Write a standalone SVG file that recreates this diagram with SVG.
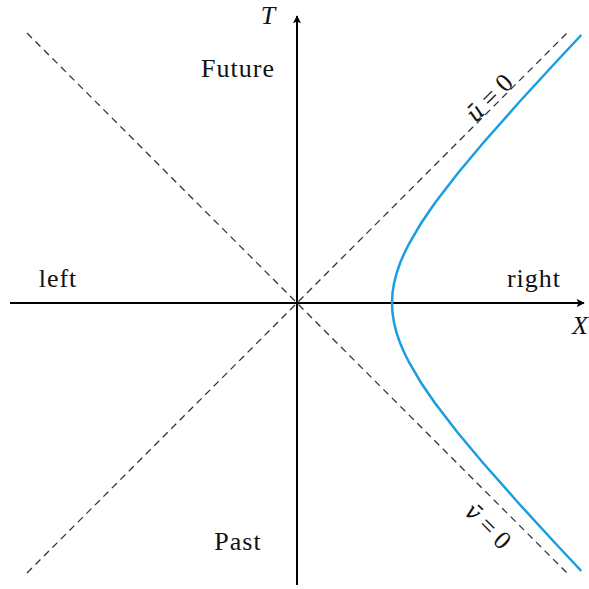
<svg xmlns="http://www.w3.org/2000/svg" width="589" height="589" viewBox="0 0 589 589">
<style>
.axis{stroke:#000;stroke-width:2;fill:none}
.dash{stroke:#333;stroke-width:1.3;stroke-dasharray:7 5;fill:none}
.hyp{stroke:#1a9ee0;stroke-width:2.5;fill:none}
.lbl{font-family:"Liberation Serif","DejaVu Serif",serif;font-size:26px;fill:#111}
.it{font-style:italic}
.dv{font-family:"DejaVu Serif",serif;font-size:23px}
</style>
<defs>
<marker id="arr" viewBox="0 0 10 10" refX="9" refY="5" markerWidth="8" markerHeight="8" markerUnits="userSpaceOnUse" orient="auto">
<path d="M0,0 L10,5 L0,10 L2,5 Z" fill="#000"/>
</marker>
</defs>
<rect width="589" height="589" fill="#fff"/>
<g id="connectors">
<line class="dash" x1="27" y1="33" x2="567" y2="573"/>
<line class="dash" x1="27" y1="573" x2="567" y2="33"/>
<line class="axis" x1="10" y1="303" x2="584" y2="303" marker-end="url(#arr)"/>
<line class="axis" x1="297" y1="585" x2="297" y2="16" marker-end="url(#arr)"/>
<polyline class="hyp" points="581.3,35 555.1,63 518.4,103 483.1,143 458,173 434.9,203 421.2,223 409.4,243 404.4,253 400.1,263 396.6,273 394.1,283 392.5,293 392,303 392.5,313 394.1,323 396.6,333 400.1,343 404.4,353 409.4,363 421.2,383 434.9,403 458,433 483.1,463 518.4,503 555.1,543 581.3,571"/>
</g>
<g id="labels">
<text class="lbl it" x="268" y="24" text-anchor="middle">T</text>
<text class="lbl it" x="580" y="334" text-anchor="middle">X</text>
<text class="lbl" x="238" y="77" text-anchor="middle" letter-spacing="1">Future</text>
<text class="lbl" x="238" y="550" text-anchor="middle" letter-spacing="1">Past</text>
<text class="lbl" x="58" y="287" text-anchor="middle" letter-spacing="1">left</text>
<text class="lbl" x="534" y="287" text-anchor="middle" letter-spacing="1">right</text>
<text class="lbl" x="0" y="0" text-anchor="middle" transform="translate(495,104) rotate(-45)"><tspan class="it dv">ū</tspan> = 0</text>
<text class="lbl" x="0" y="0" text-anchor="middle" transform="translate(482,532) rotate(45)"><tspan class="it dv">v̄</tspan> = 0</text>
</g>
</svg>
